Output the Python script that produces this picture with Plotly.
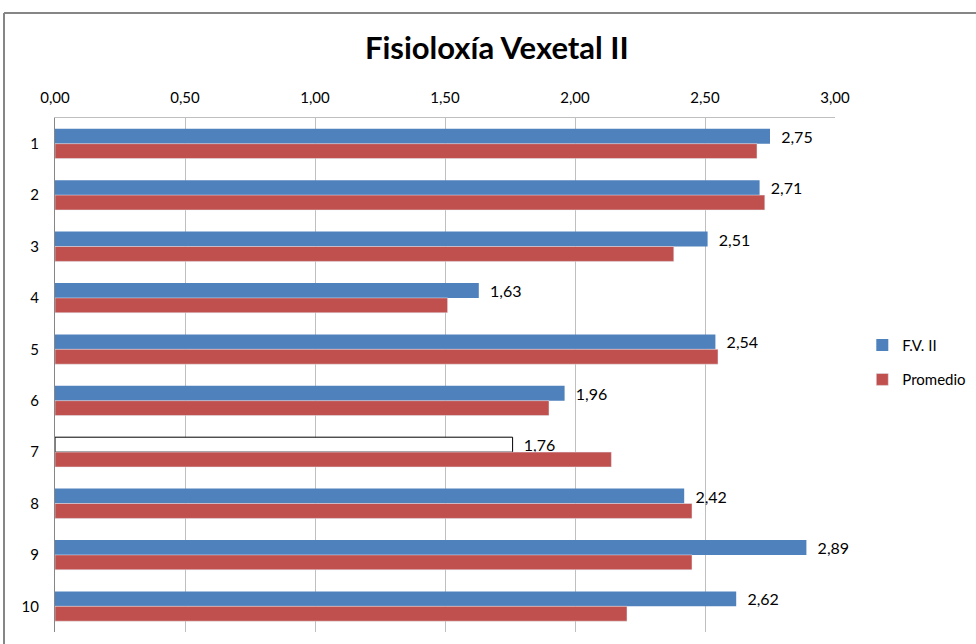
import plotly.graph_objects as go

categories = ["1", "2", "3", "4", "5", "6", "7", "8", "9", "10"]
fv_ii = [2.75, 2.71, 2.51, 1.63, 2.54, 1.96, 1.76, 2.42, 2.89, 2.62]
promedio = [2.70, 2.73, 2.38, 1.51, 2.55, 1.90, 2.14, 2.45, 2.45, 2.20]
tick_vals = [0, 0.5, 1.0, 1.5, 2.0, 2.5, 3.0]
tick_text = ["0,00", "0,50", "1,00", "1,50", "2,00", "2,50", "3,00"]

BLUE = "#4F81BD"
RED = "#C0504D"
FONT = "Lato, 'Liberation Sans', sans-serif"

fv_colors = ["white" if c == "7" else BLUE for c in categories]
fv_line_colors = ["black" if c == "7" else BLUE for c in categories]
fv_line_widths = [1 if c == "7" else 0 for c in categories]

fig = go.Figure()
fig.add_trace(go.Bar(
    y=categories, x=fv_ii, orientation="h", name="F.V. II", legendgroup="a",
    marker=dict(color=fv_colors, line=dict(color=fv_line_colors, width=fv_line_widths)),
    text=["  " + f"{v:.2f}".replace(".", ",") for v in fv_ii],
    textposition="outside", cliponaxis=False, constraintext="none",
    textfont=dict(size=16, color="black", family=FONT),
))
fig.add_trace(go.Bar(
    y=categories, x=promedio, orientation="h", name="Promedio", legendgroup="b",
    marker=dict(color=RED),
))

fig.update_layout(
    width=976, height=644,
    paper_bgcolor="white", plot_bgcolor="white",
    font=dict(family=FONT, size=15, color="black"),
    margin=dict(l=55, r=141, t=118, b=12, autoexpand=False),
    barmode="group", bargap=0.42, bargroupgap=0,
    title=dict(text="<b>Fisioloxía Vexetal II</b>", x=0.509, xanchor="center",
               y=0.925, yanchor="middle", font=dict(size=31, family=FONT, color="black")),
    xaxis=dict(side="top", range=[0, 3], tickvals=tick_vals, ticktext=tick_text,
               showgrid=True, gridcolor="#BFBFBF", gridwidth=1,
               showline=True, linecolor="#BFBFBF", zeroline=False, automargin=False,
               ticks="", tickfont=dict(size=15), ticklabelstandoff=8),
    yaxis=dict(type="category", autorange="reversed", showline=True, automargin=False,
               linecolor="#868686", showgrid=False, ticks="", tickfont=dict(size=15),
               ticklabelstandoff=12),
    legend=dict(x=1.035, y=0.525, xanchor="left", yanchor="middle",
                font=dict(size=15), itemwidth=30, tracegroupgap=12),
    shapes=[
        dict(type="line", xref="paper", yref="paper", x0=(4-55)/780, x1=1.3,
             y0=(632-13)/514, y1=(632-13)/514, line=dict(color="#868686", width=2)),
        dict(type="line", xref="paper", yref="paper", x0=(4-55)/780, x1=(4-55)/780,
             y0=(632-13)/514, y1=-0.1, line=dict(color="#868686", width=2)),
    ],
)

fig.write_html("out.html", config={"displayModeBar": False},
               post_script="document.body.style.margin='0';")
